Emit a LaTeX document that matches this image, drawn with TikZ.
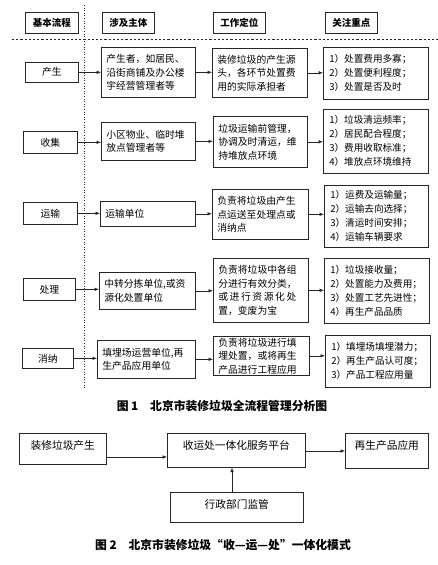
\documentclass[tikz,border=0pt]{standalone}
\usepackage{fontspec}
\setmainfont{Noto Sans CJK SC}
\usetikzlibrary{arrows.meta}
\tikzset{
  ln/.style={line width=0.6pt, draw=black!85},
  hd/.style={ln, draw, anchor=north west, inner sep=0pt, minimum height=21pt, minimum width=52pt, font=\bfseries\fontsize{9.5}{11}\selectfont},
  lb/.style={ln, draw, anchor=north west, inner sep=0pt, minimum height=21pt, minimum width=53pt, font=\fontsize{9.8}{11}\selectfont},
  bx/.style={ln, draw, anchor=north west, inner xsep=5pt, inner ysep=0pt, align=left, font=\fontsize{9.8}{13.5}\selectfont},
  fx/.style={ln, draw, anchor=north west, inner xsep=6pt, inner ysep=0pt, align=left, font=\fontsize{9.6}{14}\selectfont},
  gb/.style={ln, draw, anchor=north west, inner xsep=0pt, inner ysep=0pt, align=center, text height=16pt, font=\fontsize{10.7}{13}\selectfont},
  arr/.style={ln, -{Latex[length=4.5pt,width=3.6pt]}},
  figcap/.style={font=\bfseries\fontsize{11.8}{13}\selectfont},
}
\begin{document}
\begin{tikzpicture}[x=1pt,y=-1pt]
\useasboundingbox (0,0) rectangle (438,565);
% guide lines
\coordinate (vt) at (84,5);
\coordinate (vb) at (84,388);
\coordinate (hl) at (12,39);
\coordinate (hr) at (438,39);
\draw[ln, dotted] (vt) -- (vb);
\draw[ln, dash pattern=on 2.2pt off 2pt] (hl) -- (hr);
% headers
\node[hd, minimum width=53pt] (h1) at (25,12) {基本流程};
\node[hd] (h2) at (102,12) {涉及主体};
\node[hd] (h3) at (213,12) {工作定位};
\node[hd] (h4) at (325,12) {关注重点};
% labels
\node[lb, minimum height=20pt] (l1) at (25,62) {产生};
\node[lb, minimum height=22pt, minimum width=54pt] (l2) at (23,131) {收集};
\node[lb, minimum height=22pt, minimum width=54pt] (l3) at (23,202) {运输};
\node[lb, minimum height=22pt, minimum width=52pt] (l4) at (23,278) {处理};
\node[lb, minimum height=20pt, minimum width=51pt] (l5) at (22,348) {消纳};
% subjects
\node[bx, text width=84pt, minimum height=50pt] (s1) at (101,47) {产生者，如居民、\\沿街商铺及办公楼\\宇经营管理者等};
\node[bx, text width=84pt, minimum height=38pt] (s2) at (101,122) {小区物业、临时堆\\放点管理者等};
\node[bx, text width=85pt, minimum height=25pt] (s3) at (100,201) {运输单位};
\node[bx, text width=86pt, minimum height=37pt] (s4) at (99,272) {中转分拣单位,或资\\源化处置单位};
\node[bx, text width=88pt, minimum height=38pt] (s5) at (97,340) {填埋场运营单位,再\\生产品应用单位};
% work
\node[bx, text width=85pt, minimum height=49pt] (w1) at (212,48) {装修垃圾的产生源\\头，各环节处置费\\用的实际承担者};
\node[bx, text width=84pt, minimum height=51pt] (w2) at (213,116) {垃圾运输前管理，\\协调及时清运，维\\持堆放点环境};
\node[bx, text width=86pt, minimum height=50pt] (w3) at (212,189) {负责将垃圾由产生\\点运送至处理点或\\消纳点};
\node[bx, text width=85pt, minimum height=64pt] (w4) at (213,258) {负责将垃圾中各组\\分进行有效分类，\\\makebox[78pt][s]{或\hfill 进\hfill 行\hfill 资\hfill 源\hfill 化\hfill 处}\\置，变废为宝};
\node[bx, text width=86pt, minimum height=39pt] (w5) at (213,336) {负责将垃圾进行填\\埋处置，或将再生\\产品进行工程应用};
% focus
\node[fx, text width=93pt, minimum height=52pt] (f1) at (323,47) {1）处置费用多寡；\\2）处置便利程度；\\3）处置是否及时};
\node[fx, text width=93pt, minimum height=64pt] (f2) at (323,109) {1）垃圾清运频率；\\2）居民配合程度；\\3）费用收取标准；\\4）堆放点环境维持};
\node[fx, text width=92pt, minimum height=62pt] (f3) at (324,185) {1）运费及运输量；\\2）运输去向选择；\\3）清运时间安排；\\4）运输车辆要求};
\node[fx, text width=93pt, minimum height=65pt] (f4) at (324,258) {1）垃圾接收量；\\2）处置能力及费用；\\3）处置工艺先进性；\\4）再生产品品质};
\node[fx, text width=93pt, minimum height=52pt] (f5) at (325,335) {1）填埋场填埋潜力；\\2）再生产品认可度；\\3）产品工程应用量};
% arrows
\foreach \i in {1,...,5}{
  \draw[arr] (l\i.east) -- (l\i.east -| s\i.west);
  \draw[arr] (s\i.east) -- (s\i.east -| w\i.west);
  \draw[arr] (w\i.east) -- (w\i.east -| f\i.west);
}
\node[figcap] (c1) at (222,406) {图 1\quad 北京市装修垃圾全流程管理分析图};
% figure 2
\node[gb, text width=87pt, text depth=15pt] (a) at (19,433) {装修垃圾产生};
\node[gb, text width=138pt, text depth=18pt] (b) at (167,433) {收运处一体化服务平台};
\node[gb, text width=83pt, text depth=19pt] (c) at (345,433) {再生产品应用};
\node[gb, text width=133pt, text depth=14pt] (d) at (170,492) {行政部门监管};
\coordinate (y1) at (0,457);
\coordinate (y2) at (0,451);
\coordinate (x1) at (232,0);
\draw[arr] (a.east |- y1) -- (b.west |- y1);
\draw[arr] (b.east |- y2) -- (c.west |- y2);
\draw[arr] (d.north -| x1) -- (b.south -| x1);
\node[figcap] (c2) at (223,545) {图 2\quad 北京市装修垃圾“收—运—处”一体化模式};
\end{tikzpicture}
\end{document}
